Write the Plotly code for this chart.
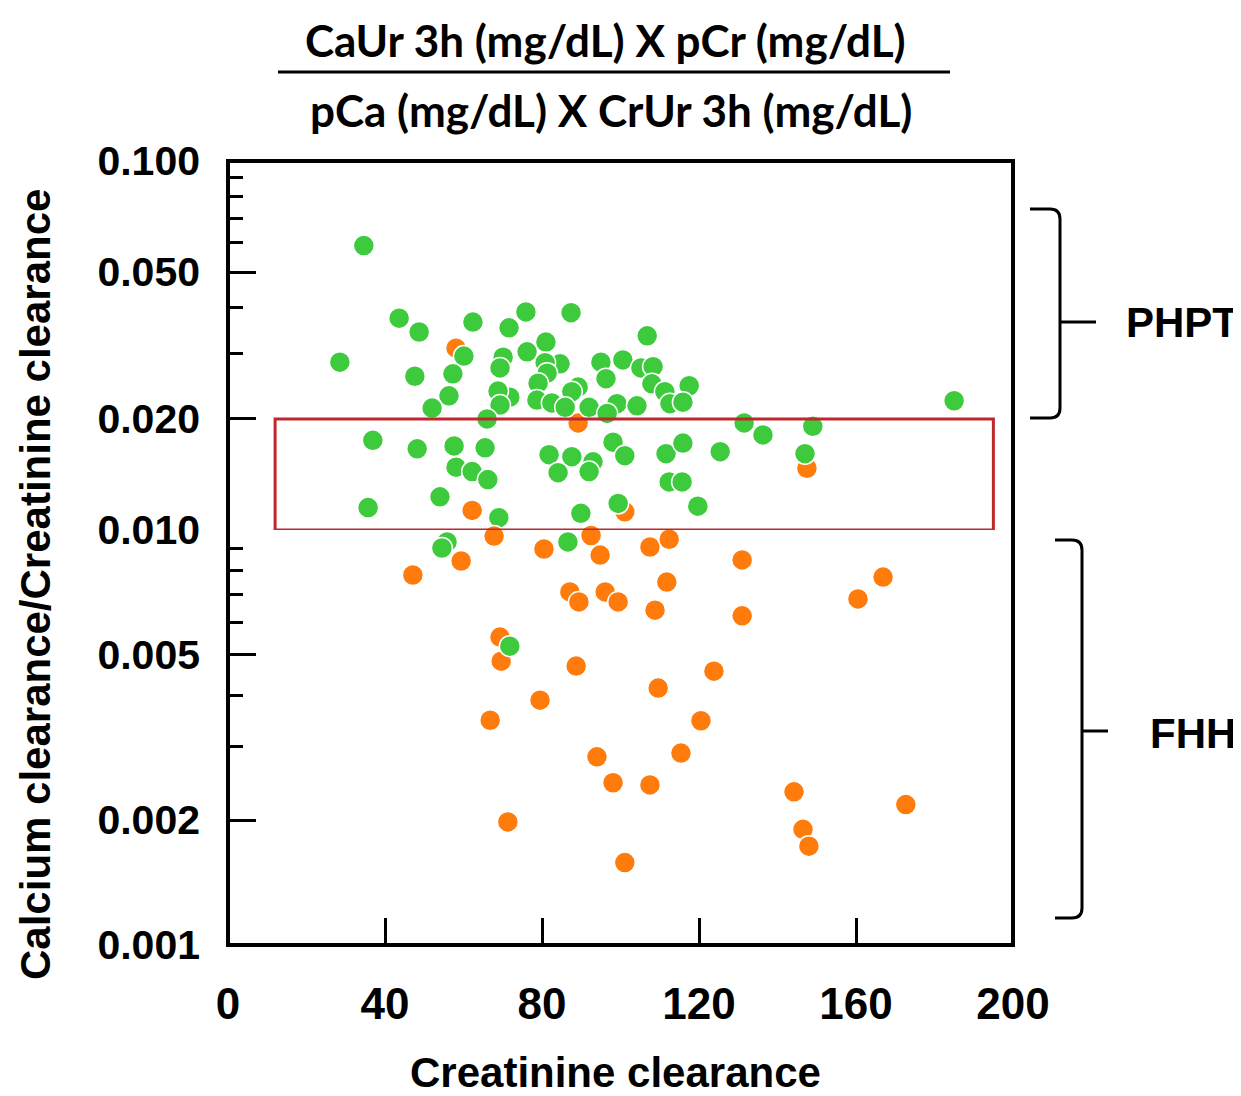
import plotly.graph_objects as go

# ---------------- data ----------------
green_x = [34.6, 43.6, 48.7, 62.4, 71.6, 75.9, 87.4, 106.8, 81.0, 76.2,
           84.6, 80.8, 81.3, 79.0, 95.0, 100.6, 105.2, 108.3, 96.3, 108.0,
           111.3, 117.5, 89.2, 87.6, 78.7, 82.5, 85.9, 92.0, 99.1, 104.2,
           112.6, 115.9, 71.8, 96.6, 98.1, 101.1, 81.8, 87.6, 93.0, 84.1,
           92.0, 111.6, 115.9, 125.4, 112.4, 115.7, 119.7, 89.9, 99.4, 86.6,
           131.5, 136.3, 149.0, 147.0, 185.0, 28.5, 60.1, 70.1, 69.3, 57.3,
           47.6, 56.3, 68.8, 69.3, 52.0, 66.0, 36.9, 48.2, 57.6, 65.5,
           58.1, 62.2, 66.2, 54.0, 35.7, 69.0, 55.8, 54.5, 71.8]
green_y = [0.0590, 0.0375, 0.0344, 0.0366, 0.0353, 0.0390, 0.0388, 0.0336, 0.0323, 0.0304,
           0.0282, 0.0284, 0.0266, 0.0250, 0.0285, 0.0289, 0.0275, 0.0277, 0.0257, 0.0249,
           0.0237, 0.0246, 0.0244, 0.0237, 0.0225, 0.0221, 0.0215, 0.0215, 0.0220, 0.0217,
           0.0220, 0.0222, 0.0229, 0.0207, 0.0173, 0.0159, 0.0160, 0.0158, 0.0153, 0.0143,
           0.0144, 0.0161, 0.0172, 0.0163, 0.0135, 0.0135, 0.0116, 0.0111, 0.0118, 0.00936,
           0.0195, 0.0181, 0.0191, 0.0161, 0.0224, 0.0285, 0.0296, 0.0294, 0.0275, 0.0265,
           0.0261, 0.0231, 0.0238, 0.0218, 0.0214, 0.0200, 0.0175, 0.0166, 0.0169, 0.0167,
           0.0148, 0.0144, 0.0137, 0.0123, 0.0115, 0.0108, 0.00936, 0.00905, 0.00525]

orange_x = [58.1, 89.2, 101.1, 62.2, 67.8, 59.4, 47.1, 80.5, 92.5, 94.8,
            107.5, 112.4, 147.5, 131.0, 111.8, 87.1, 89.4, 96.1, 99.4, 108.8,
            166.9, 160.5, 131.0, 69.3, 69.6, 88.7, 123.8, 109.6, 79.5, 66.8,
            120.5, 94.0, 115.4, 98.1, 107.5, 144.2, 172.7, 71.3, 146.5, 148.0,
            101.1]
orange_y = [0.0311, 0.0195, 0.0112, 0.0113, 0.00967, 0.00842, 0.00779, 0.00900, 0.00970, 0.00870,
            0.00910, 0.00950, 0.0147, 0.00847, 0.00749, 0.00709, 0.00671, 0.00709, 0.00671, 0.00641,
            0.00770, 0.00682, 0.00621, 0.00552, 0.00483, 0.00470, 0.00457, 0.00416, 0.00389, 0.00348,
            0.00347, 0.00284, 0.00290, 0.00246, 0.00243, 0.00234, 0.00218, 0.00198, 0.00190, 0.00173,
            0.00158]

x_ticks = [0, 40, 80, 120, 160, 200]
y_major_upper = [0.1, 0.05, 0.02]
y_major_upper_text = ["0.100", "0.050", "0.020"]
y_major_lower = [0.01, 0.005, 0.002, 0.001]
y_major_lower_text = ["0.010", "0.005", "0.002", "0.001"]
y_minor_upper = [0.09, 0.08, 0.07, 0.06, 0.04, 0.03]
y_minor_lower = [0.009, 0.008, 0.007, 0.006, 0.004, 0.003]

box_x = [12, 195]
box_y = [0.01, 0.02]

# ---------------- layout geometry (screen pixels; page has 8px body margin) ----------------
OFF = 8
W, H = 1241 - OFF, 1096 - OFF
L, R, T, B = 228, 1013, 161, 945
split = (B - 530) / (B - T)


def px(p):
    return (p - L) / (R - L)


def py(p):
    return (B - p) / (B - T)


GREEN = "#3DCB3D"
ORANGE = "#FF7B0C"

fig = go.Figure()


def add_group(xs, ys, color):
    up = [(a, b) for a, b in zip(xs, ys) if b >= 0.01]
    lo = [(a, b) for a, b in zip(xs, ys) if b < 0.01]
    for pts, yax in ((up, "y"), (lo, "y2")):
        if not pts:
            continue
        fig.add_trace(go.Scatter(
            x=[p[0] for p in pts], y=[p[1] for p in pts], yaxis=yax, xaxis="x",
            mode="markers", cliponaxis=False, showlegend=False,
            marker=dict(size=21, color=color, line=dict(color="white", width=1.5)),
        ))


add_group(orange_x, orange_y, ORANGE)
add_group(green_x, green_y, GREEN)

tick_font_y = dict(family="Liberation Sans, Arial", size=41, color="black", weight="bold")
tick_font_x = dict(family="Liberation Sans, Arial", size=44, color="black", weight="bold")

fig.update_layout(
    width=W, height=H,
    margin=dict(l=L - OFF, r=W - (R - OFF), t=T - OFF, b=H - (B - OFF)),
    paper_bgcolor="white", plot_bgcolor="white",
    xaxis=dict(range=[0, 200], anchor="y2", domain=[0, 1],
               tickmode="array", tickvals=x_ticks, ticks="inside", ticklen=27,
               tickwidth=3, tickcolor="black", showgrid=False, zeroline=False,
               showline=False, tickfont=tick_font_x, ticklabelstandoff=29),
    yaxis=dict(type="log", range=[-2, -1], domain=[split, 1], anchor="x",
               tickmode="array", tickvals=y_major_upper, ticktext=y_major_upper_text,
               ticks="inside", ticklen=28, tickwidth=3, tickcolor="black",
               showgrid=False, zeroline=False, showline=False, tickfont=tick_font_y,
               ticklabelstandoff=27,
               minor=dict(tickmode="array", tickvals=y_minor_upper, ticks="inside",
                          ticklen=15, tickwidth=3, tickcolor="black", showgrid=False)),
    yaxis2=dict(type="log", range=[-3, -2], domain=[0, split], anchor="x",
                tickmode="array", tickvals=y_major_lower, ticktext=y_major_lower_text,
                ticks="inside", ticklen=28, tickwidth=3, tickcolor="black",
                showgrid=False, zeroline=False, showline=False, tickfont=tick_font_y,
                ticklabelstandoff=27,
                minor=dict(tickmode="array", tickvals=y_minor_lower, ticks="inside",
                           ticklen=15, tickwidth=3, tickcolor="black", showgrid=False)),
)

# plot frame
fig.add_shape(type="rect", xref="paper", yref="paper", x0=0, x1=1, y0=0, y1=1,
              line=dict(color="black", width=4), layer="above")

# red reference box
fig.add_shape(type="rect", xref="x", yref="y", x0=box_x[0], x1=box_x[1],
              y0=box_y[0], y1=box_y[1], line=dict(color="#C0272D", width=3),
              layer="above")


# brackets
def brace(xl, xv, xt, yt, ym, yb):
    r = 10
    pts = (f"M {px(xl)},{py(yt)} L {px(xv - r)},{py(yt)} "
           f"Q {px(xv)},{py(yt)} {px(xv)},{py(yt + r)} "
           f"L {px(xv)},{py(yb - r)} "
           f"Q {px(xv)},{py(yb)} {px(xv - r)},{py(yb)} L {px(xl)},{py(yb)} "
           f"M {px(xv)},{py(ym)} L {px(xt)},{py(ym)}")
    fig.add_shape(type="path", xref="paper", yref="paper", path=pts,
                  line=dict(color="black", width=3))


brace(1030, 1060, 1096, 209, 322, 418)
brace(1055, 1082, 1108, 540, 731, 918)

lab_font = dict(family="Liberation Sans, Arial", size=42, color="black", weight="bold")
fig.add_annotation(x=px(1182), y=py(322), xref="paper", yref="paper", text="PHPT",
                   showarrow=False, font=lab_font, xanchor="center", yanchor="middle")
fig.add_annotation(x=px(1193), y=py(733), xref="paper", yref="paper", text="FHH",
                   showarrow=False, font=lab_font, xanchor="center", yanchor="middle")

# axis titles
fig.add_annotation(x=px(615), y=py(1072), xref="paper", yref="paper",
                   text="Creatinine clearance", showarrow=False, font=lab_font,
                   xanchor="center", yanchor="middle")
fig.add_annotation(x=px(35), y=py(585), xref="paper", yref="paper",
                   text="Calcium clearance/Creatinine clearance", showarrow=False,
                   font=lab_font, textangle=-90, xanchor="center", yanchor="middle")

# fraction title
title_font = dict(family="Lato", size=44, color="black", weight="bold")
fig.add_annotation(x=px(605), y=py(40), xref="paper", yref="paper",
                   text="CaUr 3h (mg/dL) X pCr (mg/dL)", showarrow=False,
                   font=title_font, xanchor="center", yanchor="middle")
fig.add_annotation(x=px(611), y=py(110), xref="paper", yref="paper",
                   text="pCa (mg/dL) X CrUr 3h (mg/dL)", showarrow=False,
                   font=title_font, xanchor="center", yanchor="middle")
fig.add_shape(type="line", xref="paper", yref="paper", x0=px(278), x1=px(950),
              y0=py(72), y1=py(72), line=dict(color="black", width=3))

fig.write_html("out.html")
